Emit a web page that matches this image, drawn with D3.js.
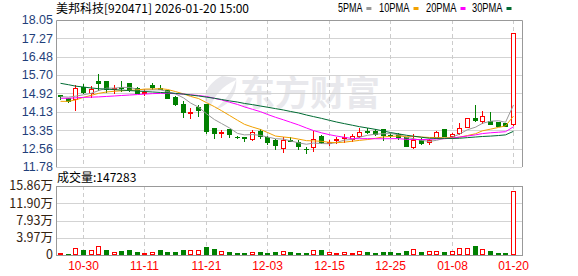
<!DOCTYPE html>
<html lang="zh-CN">
<head>
<meta charset="UTF-8">
<title>美邦科技 日K</title>
<script src="https://d3js.org/d3.v7.min.js"></script>
<style>
    body { margin: 0; background: #fff; }
    text { font-family: "Liberation Sans", Arial, sans-serif; }
    .cn { font-family: "Noto Sans CJK SC", sans-serif; }
</style>
</head>
<body>
<div id="chart"></div>
<script>
    // trading days shown (60 bars)
    var dates = ["10-27","10-28","10-29","10-30","10-31","11-03","11-04","11-05","11-06","11-07",
        "11-10","11-11","11-12","11-13","11-14","11-17","11-18","11-19","11-20","11-21",
        "11-24","11-25","11-26","11-27","11-28","12-01","12-02","12-03","12-04","12-05",
        "12-08","12-09","12-10","12-11","12-12","12-15","12-16","12-17","12-18","12-19",
        "12-22","12-23","12-24","12-25","12-26","12-29","12-30","12-31","01-05","01-06",
        "01-07","01-08","01-09","01-12","01-13","01-14","01-15","01-16","01-19","01-20"];

    var opens = [14.83,14.74,14.67,15.20,14.92,15.46,15.45,15.10,15.18,15.37,
        15.14,14.93,15.29,15.17,15.07,14.75,14.47,14.10,14.35,14.45,
        13.46,13.22,13.40,13.08,13.04,12.96,13.31,13.04,12.95,12.60,
        12.93,12.86,12.55,12.65,13.10,12.82,12.93,13.00,12.96,13.11,
        13.30,13.30,13.39,13.16,13.20,13.05,12.62,12.92,12.86,13.03,
        13.39,13.11,13.22,13.50,13.86,13.75,13.75,13.71,13.67,13.62];
    var highs = [14.86,14.76,15.32,15.38,15.28,15.78,15.47,15.32,15.49,15.40,
        15.22,15.14,15.39,15.32,15.12,14.85,14.64,14.36,14.47,14.52,
        13.50,13.40,13.44,13.15,13.10,13.42,13.44,13.14,13.00,13.10,
        13.10,12.96,12.66,13.36,13.17,12.96,13.10,13.22,13.22,13.47,
        13.47,13.43,13.44,13.29,13.26,13.10,13.22,13.05,13.00,13.36,
        13.40,13.26,13.69,13.90,14.47,14.21,14.17,13.74,13.71,17.48];
    var lows = [14.67,14.57,14.21,14.92,14.78,15.05,15.00,14.94,15.03,15.02,
        14.92,14.86,15.11,15.10,14.72,14.44,13.90,13.88,13.96,13.22,
        13.00,13.07,13.07,13.03,12.89,12.93,13.00,12.76,12.55,12.43,
        12.88,12.56,12.39,12.47,12.79,12.72,12.82,12.86,12.88,13.07,
        13.22,13.14,12.94,13.07,12.97,12.67,12.61,12.75,12.75,13.01,
        13.10,13.00,13.20,13.48,13.76,13.64,13.61,13.54,13.53,13.58];
    var closes = [14.80,14.59,15.16,14.99,15.09,15.36,15.11,15.17,15.14,15.10,
        14.95,14.97,15.21,15.12,14.74,14.46,14.11,14.13,14.22,13.33,
        13.22,13.28,13.18,13.06,13.01,13.29,13.10,12.83,12.70,12.93,
        12.91,12.68,12.53,12.96,12.83,12.85,12.96,13.05,13.10,13.28,
        13.27,13.20,13.15,13.13,13.04,12.69,12.93,12.79,12.92,13.26,
        13.12,13.19,13.43,13.86,13.79,13.95,13.63,13.54,13.53,17.48];
    var volumes = [5300,3000,15400,11500,11500,20000,11500,6900,9900,11500,
        7600,4600,6900,11500,7600,7600,11500,11500,11500,19100,
        13800,9200,7600,5300,5300,6900,7600,5300,7600,9200,
        7600,5300,5300,11500,11500,6900,4600,6900,4600,9200,
        6900,4600,6900,6900,4600,9200,13100,6900,8500,8500,
        6900,8500,15400,15400,20700,13100,9200,4600,4600,147283];
    var prevClose = 14.75;   // close of the day before the first bar

    // MA values before enough bars are on screen
    var ma5Head = [14.78,14.76,14.80,14.86];
    var ma10Head = [14.58,14.58,14.64,14.75,14.84,14.92,14.98,15.01,15.03];
    var ma20Head = [14.71,14.71,14.73,14.75,14.76,14.77,14.79,14.81,14.83,14.85,
        14.87,14.89,14.91,14.92,14.92,14.91,14.89,14.86,14.83];
    var ma30Head = [15.35,15.29,15.23,15.19,15.15,15.12,15.10,15.08,15.06,15.04,
        15.02,15.00,14.98,14.96,14.94,14.92,14.89,14.85,14.81,14.76,
        14.71,14.66,14.60,14.55,14.49,14.44,14.38,14.33,14.27];

    var priceTicks = [11.78,12.56,13.35,14.13,14.92,15.70,16.48,17.27,18.05];
    var volTicks = [0,39650,79300,118950,158600];
    var volTickLabels = ["0","3.97万","7.93万","11.90万","15.86万"];
    var dateTicks = ["10-30","11-11","11-21","12-03","12-15","12-25","01-08","01-20"];

    var maNames = ["5PMA","10PMA","20PMA","30PMA"];
    var maColors = ["#999999","#f2a100","#ff00ff","#006b33"];
    var up = "#ff0000", down = "#008000";

    // layout
    var width = 578, height = 276,
        left = 56, right = 522,
        pTop = 20, pBottom = 167,
        vTop = 186, vBottom = 255;

    var svg = d3.select("#chart").append("svg")
        .attr("width", width)
        .attr("height", height);

    var x = d3.scaleBand()
        .domain(d3.range(dates.length))
        .range([56, 517]);
    var cx = function(i) { return Math.round(x(i) + x.bandwidth() / 2) + 0.5; };

    var y = d3.scaleLinear().domain([11.78, 18.05]).range([pBottom, pTop]);
    var yv = d3.scaleLinear().domain([0, 158600]).range([vBottom, vTop]);
    var py = function(v) { return Math.round(y(v)) + 0.5; };

    // watermark
    var wm = svg.append("g").attr("fill", "#e8e8ec");
    wm.append("path")
        .attr("d", "M222,76 C206,84 200,100 210,108 C214,96 222,86 236,80 C232,92 224,102 214,110 C230,106 238,92 236,78 Z");
    wm.append("text")
        .attr("class", "cn")
        .attr("x", 240).attr("y", 106)
        .style("font-size", "35px")
        .style("font-weight", "bold")
        .text("东方财富");

    // horizontal grid
    svg.append("g").selectAll("line")
        .data(priceTicks.slice(0, -1))
        .enter().append("line")
        .attr("x1", left).attr("x2", right)
        .attr("y1", function(d) { return py(d); })
        .attr("y2", function(d) { return py(d); })
        .attr("stroke", "#d3d3d3");
    svg.append("g").selectAll("line")
        .data(volTicks.slice(1, -1))
        .enter().append("line")
        .attr("x1", left).attr("x2", right)
        .attr("y1", function(d) { return Math.round(yv(d)) + 0.5; })
        .attr("y2", function(d) { return Math.round(yv(d)) + 0.5; })
        .attr("stroke", "#d3d3d3");

    // vertical dashed grid at the date ticks
    var dg = svg.append("g").attr("stroke", "#cccccc").attr("stroke-dasharray", "4,3");
    dateTicks.forEach(function(t) {
        var xi = cx(dates.indexOf(t));
        dg.append("line").attr("x1", xi).attr("x2", xi).attr("y1", pTop).attr("y2", pBottom);
        dg.append("line").attr("x1", xi).attr("x2", xi).attr("y1", vTop).attr("y2", vBottom);
    });

    // frames
    var fr = svg.append("g").attr("fill", "none").attr("stroke", "#999999");
    fr.append("path").attr("d", "M" + (left + 0.5) + "," + pBottom + "V" + (pTop + 0.5) + "H" + (right + 0.5) + "V" + pBottom);
    fr.append("rect")
        .attr("x", left + 0.5).attr("y", vTop + 0.5)
        .attr("width", right - left).attr("height", vBottom - vTop);

    // candles
    var isUp = function(i) {
        if (closes[i] !== opens[i]) return closes[i] > opens[i];
        return closes[i] >= (i ? closes[i - 1] : prevClose);
    };
    var cg = svg.append("g").attr("shape-rendering", "crispEdges");
    d3.range(dates.length).forEach(function(i) {
        var c = cx(i), o = py(opens[i]), cl = py(closes[i]);
        var top = Math.min(o, cl), bot = Math.max(o, cl);
        var col = isUp(i) ? up : down;
        cg.append("line").attr("x1", c).attr("x2", c)
            .attr("y1", py(highs[i])).attr("y2", py(lows[i]))
            .attr("stroke", col);
        if (isUp(i)) {
            cg.append("rect")
                .attr("x", c - 2).attr("y", top)
                .attr("width", 4).attr("height", Math.max(bot - top, 0))
                .attr("fill", "#fff").attr("stroke", col);
        } else {
            cg.append("rect")
                .attr("x", c - 2.5).attr("y", top - 0.5)
                .attr("width", 5).attr("height", Math.max(bot - top, 0) + 1)
                .attr("fill", col);
        }
    });

    // moving averages
    function movingAvg(n, head) {
        return closes.map(function(c, i) {
            return i < n - 1 ? head[i] : d3.mean(closes.slice(i - n + 1, i + 1));
        });
    }
    var maSeries = [movingAvg(5, ma5Head), movingAvg(10, ma10Head), movingAvg(20, ma20Head), movingAvg(30, ma30Head)];
    var line = d3.line()
        .x(function(d, i) { return cx(i); })
        .y(function(d) { return y(d); });
    svg.append("g").selectAll("path")
        .data(maSeries)
        .enter().append("path")
        .attr("fill", "none")
        .attr("stroke", function(d, k) { return maColors[k]; })
        .attr("stroke-width", 1)
        .attr("d", line);

    // volume bars, coloured against the previous close
    var vg = svg.append("g").attr("shape-rendering", "crispEdges");
    volumes.forEach(function(v, i) {
        var c = cx(i), t = Math.round(yv(v));
        var rising = closes[i] > (i ? closes[i - 1] : prevClose);
        if (rising) {
            vg.append("rect")
                .attr("x", c - 2).attr("y", t + 0.5)
                .attr("width", 4).attr("height", Math.max(vBottom - t - 1, 0))
                .attr("fill", "#fff").attr("stroke", up);
        } else {
            vg.append("rect")
                .attr("x", c - 2.5).attr("y", t)
                .attr("width", 5).attr("height", vBottom - t)
                .attr("fill", down);
        }
    });

    // price axis labels
    svg.append("g").selectAll("text")
        .data(priceTicks)
        .enter().append("text")
        .attr("x", 53)
        .attr("y", function(d) { return y(d); })
        .attr("dy", "0.35em")
        .attr("text-anchor", "end")
        .attr("fill", "#1f3f7a")
        .style("font-size", "12.5px")
        .text(function(d) { return d.toFixed(2); });

    // volume axis labels
    svg.append("g").selectAll("text")
        .data(volTicks)
        .enter().append("text")
        .attr("class", "cn")
        .attr("x", 53)
        .attr("y", function(d) { return yv(d); })
        .attr("dy", "0.35em")
        .attr("text-anchor", "end")
        .attr("fill", "#332211")
        .style("font-size", "12.5px")
        .text(function(d, k) { return volTickLabels[k]; });

    // date labels
    svg.append("g").selectAll("text")
        .data(dateTicks)
        .enter().append("text")
        .attr("x", function(d) { return cx(dates.indexOf(d)); })
        .attr("y", 270)
        .attr("text-anchor", "middle")
        .attr("fill", "#ff0000")
        .style("font-size", "12px")
        .text(function(d) { return d; });

    // title and volume caption
    svg.append("text")
        .attr("class", "cn")
        .attr("x", 56).attr("y", 13)
        .style("font-size", "12px")
        .attr("fill", "#000")
        .text("美邦科技[920471] 2026-01-20 15:00");
    svg.append("text")
        .attr("class", "cn")
        .attr("x", 57).attr("y", 182)
        .style("font-size", "12px")
        .attr("fill", "#000")
        .text("成交量:" + volumes[volumes.length - 1]);

    // legend: label then a small colour chip
    var legX = [338, 379, 426, 472];
    maNames.forEach(function(n, k) {
        var w = n.length * 6.1;
        svg.append("text")
            .attr("x", legX[k]).attr("y", 12)
            .attr("textLength", w)
            .attr("lengthAdjust", "spacingAndGlyphs")
            .style("font-size", "12px")
            .attr("fill", "#000")
            .text(n);
        svg.append("rect")
            .attr("x", legX[k] + w + 4).attr("y", 7)
            .attr("width", 5).attr("height", 3)
            .attr("fill", maColors[k]);
    });
</script>
</body>
</html>
